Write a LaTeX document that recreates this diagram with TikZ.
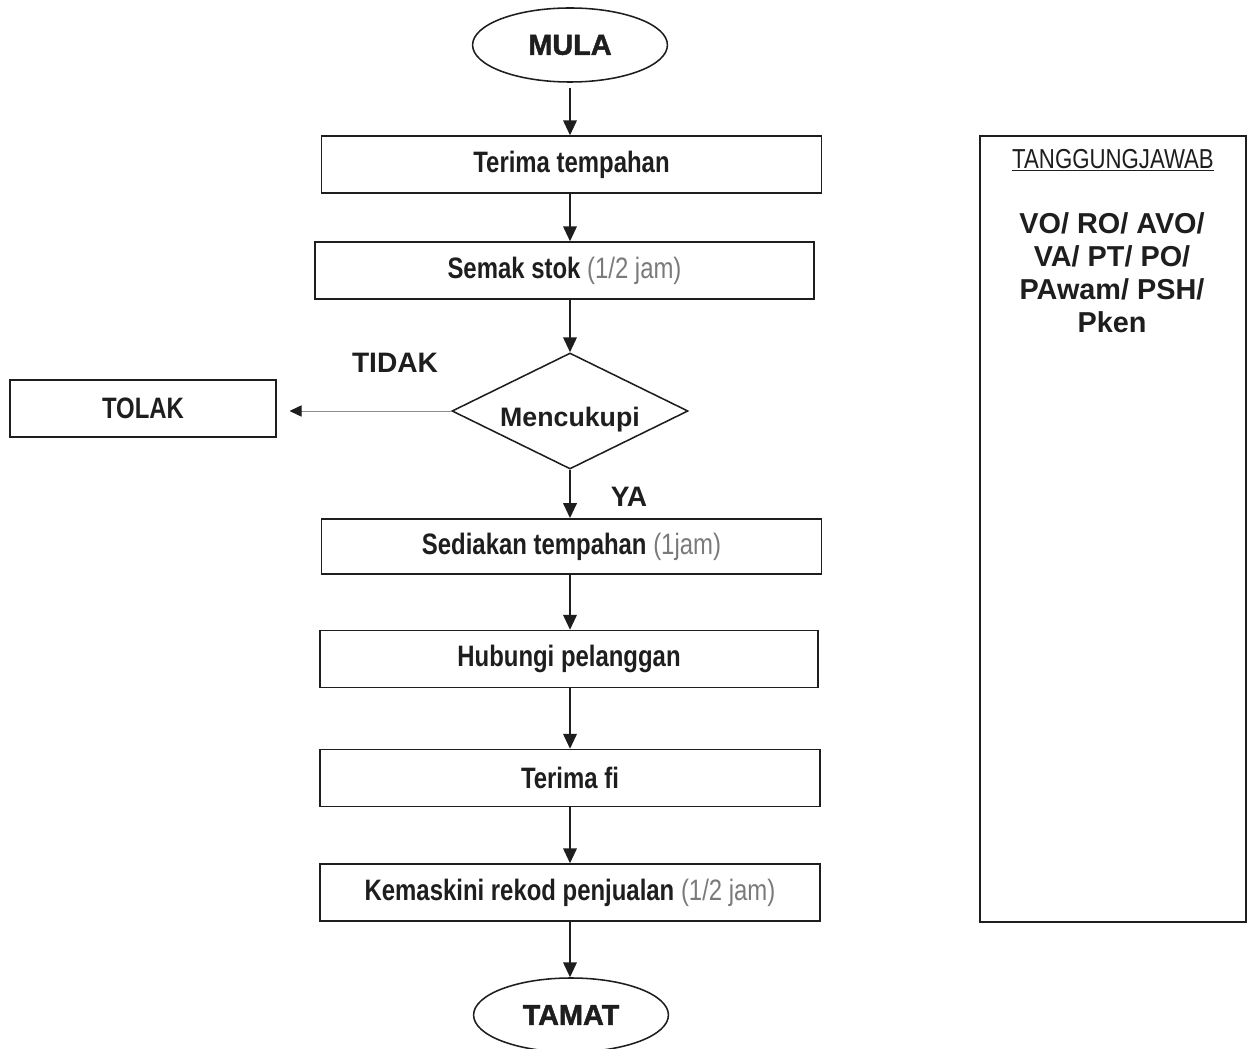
\documentclass[tikz,border=0pt]{standalone}
\usepackage{fontspec}
\setmainfont{Liberation Sans}
\newfontfamily\narrowfont[FakeStretch=0.81]{Liberation Sans}
\newfontfamily\heavyfont[FakeBold=1.6]{Liberation Sans Bold}
\usetikzlibrary{arrows.meta,shapes.geometric}
\definecolor{flowInk}{HTML}{1E1E1E}
\definecolor{flowGrey}{HTML}{7A7A7A}
\definecolor{flowLine}{HTML}{8C8C8C}
\tikzset{
  procbox/.style={draw=flowInk, rectangle, line width=1.2pt, inner sep=0pt,
                  minimum width=12.5cm, minimum height=1.42cm, text=flowInk,
                  font=\narrowfont\bfseries\fontsize{21}{25}\selectfont},
  termnode/.style={draw=flowInk, ellipse, line width=1.1pt, inner sep=0pt,
                   minimum width=4.87cm, minimum height=1.85cm, text=flowInk,
                   font=\heavyfont\fontsize{20.5}{24}\selectfont},
  decnode/.style={draw=flowInk, diamond, aspect=2.03, line width=1.1pt, inner sep=0pt,
                  minimum width=5.9cm, minimum height=2.9cm, text=flowInk,
                  font=\bfseries\fontsize{19}{23}\selectfont},
  flowlabel/.style={text=flowInk, font=\bfseries\fontsize{20}{24}\selectfont},
  flowarrow/.style={-{Triangle[length=0.37cm, width=0.34cm]}, line width=1pt, draw=flowInk},
  sidearrow/.style={-{Triangle[length=0.3cm, width=0.28cm, color=flowInk]}, line width=0.6pt, draw=flowLine}
}
\newcommand{\dur}[1]{{\mdseries\color{flowGrey}#1}}

\begin{document}
\begin{tikzpicture}[x=0.025cm, y=-0.025cm]
\useasboundingbox (0,0) rectangle (1248,1049);

% main column
\node[termnode] (mula) at (570,45) {MULA};
\node[procbox] (terima) at (571.5,164.5) {Terima tempahan};
\node[procbox, minimum width=12.475cm] (semak) at (564.5,270.5) {Semak stok \dur{(1/2 jam)}};
\node[decnode] (cukup) at (570,411) {\raisebox{-6pt}[\height][\depth]{Mencukupi}};
\node[procbox, minimum width=6.65cm] (tolak) at (143,408.5) {TOLAK};
\node[procbox, minimum height=1.38cm] (sedia) at (571.5,546.5) {Sediakan tempahan \dur{(1jam)}};
\node[procbox, minimum width=12.45cm] (hubungi) at (569,659) {Hubungi pelanggan};
\node[procbox] (fi) at (570,778) {Terima fi};
\node[procbox] (rekod) at (570,892.5) {Kemaskini rekod penjualan \dur{(1/2 jam)}};
\node[termnode] (tamat) at (571,1015) {TAMAT};

\node[flowlabel] (tidak) at (395,363) {TIDAK};
\node[flowlabel] (ya) at (629,497) {YA};

% connectors
\draw[flowarrow] (mula.south) ++(0,5) coordinate (mulaout) -- (terima.north -| mulaout);
\draw[flowarrow] (terima.south -| cukup) -- (semak.north -| cukup);
\draw[flowarrow] (semak.south -| cukup) -- (cukup.north);
\draw[sidearrow, shorten >=9pt] (cukup.west) -- (tolak.east |- cukup.west);
\draw[flowarrow] (cukup.south) -- (sedia.north -| cukup);
\draw[flowarrow] (sedia.south -| cukup) -- (hubungi.north -| cukup);
\draw[flowarrow] (hubungi.south -| cukup) -- (fi.north -| cukup);
\draw[flowarrow] (fi.south -| cukup) -- (rekod.north -| cukup);
\draw[flowarrow] (rekod.south -| cukup) -- (tamat.north -| cukup);

% responsibility panel
\node[draw=flowInk, rectangle, line width=1pt, minimum width=6.65cm, minimum height=19.65cm] (tanggung) at (1113,529) {};
\node[text=flowInk, font=\narrowfont\fontsize{19.5}{23}\selectfont] (tajuk) at (1113,160) {\underline{TANGGUNGJAWAB}};
\node[text=flowInk, align=center, font=\bfseries\fontsize{20.5}{23.5}\selectfont] (pegawai) at (1112,273)
{VO/ RO/ AVO/\\VA/ PT/ PO/\\PAwam/ PSH/\\Pken};

\end{tikzpicture}
\end{document}
